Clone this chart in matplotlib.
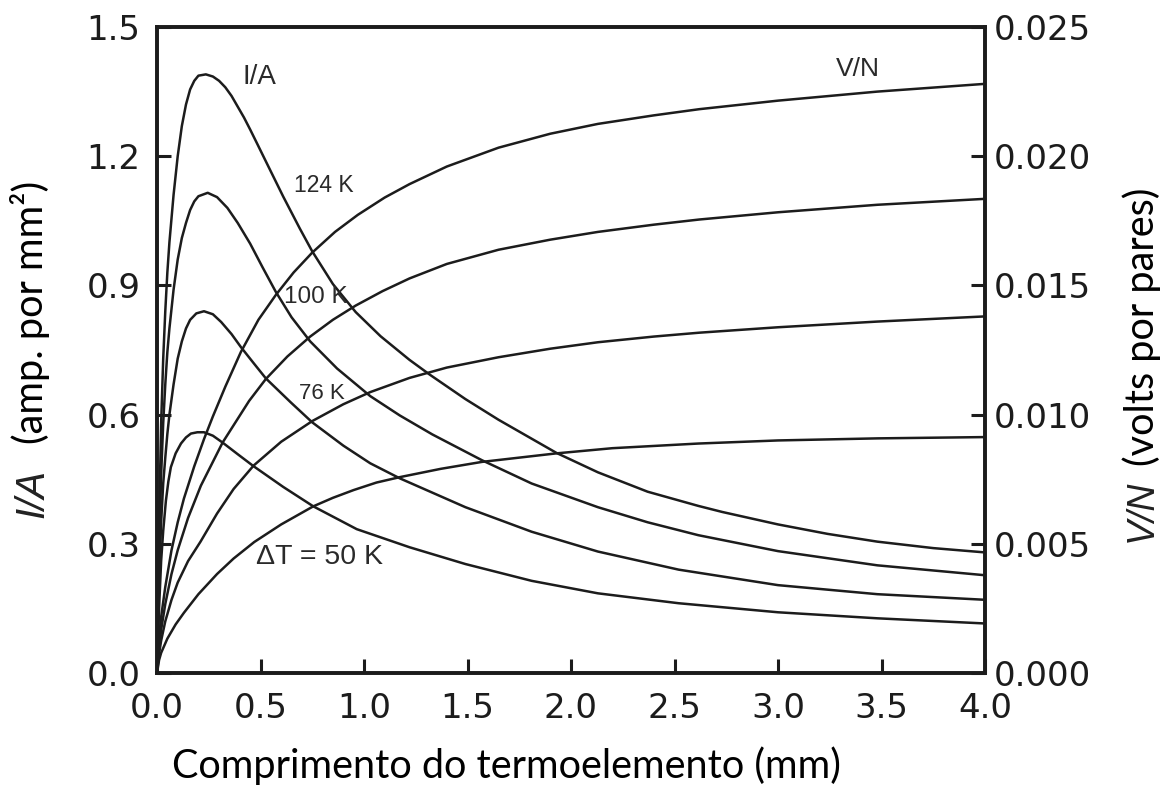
import matplotlib
matplotlib.use("Agg")
import matplotlib.pyplot as plt

# Current density I/A (amp. per mm^2) versus thermoelement length (mm)
x_ia_124 = [0, 0.01, 0.02, 0.03, 0.04, 0.05, 0.06, 0.08, 0.10, 0.12, 0.14, 0.16, 0.18, 0.20,
            0.236, 0.27, 0.30, 0.33, 0.36, 0.39, 0.42, 0.45, 0.485, 0.53, 0.61, 0.69, 0.75,
            0.85, 0.96, 1.08, 1.22, 1.32, 1.49, 1.65, 1.93, 2.13, 2.37, 2.615, 2.73, 3.0,
            3.24, 3.48, 3.75, 4.0]
ia_124 = [0, 0.35, 0.58, 0.73, 0.84, 0.93, 1.00, 1.11, 1.20, 1.27, 1.32, 1.355, 1.375, 1.387,
          1.39, 1.385, 1.375, 1.36, 1.34, 1.315, 1.29, 1.262, 1.228, 1.184, 1.106, 1.032, 0.979,
          0.903, 0.838, 0.782, 0.727, 0.692, 0.636, 0.588, 0.511, 0.466, 0.421, 0.388, 0.374,
          0.345, 0.323, 0.305, 0.29, 0.28]

x_ia_100 = [0, 0.01, 0.02, 0.03, 0.04, 0.05, 0.06, 0.08, 0.10, 0.12, 0.14, 0.16, 0.18, 0.20,
            0.245, 0.29, 0.34, 0.39, 0.45, 0.51, 0.574, 0.65, 0.74, 0.87, 1.03, 1.173, 1.33,
            1.57, 1.81, 2.13, 2.37, 2.615, 3.0, 3.48, 4.0]
ia_100 = [0, 0.28, 0.46, 0.58, 0.67, 0.745, 0.80, 0.89, 0.96, 1.01, 1.045, 1.075, 1.095, 1.107,
          1.115, 1.105, 1.08, 1.045, 0.997, 0.942, 0.885, 0.826, 0.77, 0.707, 0.643, 0.598,
          0.554, 0.494, 0.44, 0.385, 0.35, 0.32, 0.283, 0.25, 0.227]

x_ia_76 = [0, 0.01, 0.02, 0.03, 0.04, 0.05, 0.06, 0.08, 0.10, 0.12, 0.14, 0.16, 0.19, 0.227,
           0.27, 0.31, 0.36, 0.405, 0.466, 0.526, 0.647, 0.75, 0.90, 1.03, 1.173, 1.49, 1.81,
           2.13, 2.52, 3.0, 3.48, 4.0]
ia_76 = [0, 0.21, 0.35, 0.44, 0.50, 0.555, 0.60, 0.67, 0.73, 0.77, 0.80, 0.82, 0.835, 0.84,
         0.833, 0.815, 0.787, 0.757, 0.72, 0.684, 0.628, 0.582, 0.528, 0.487, 0.452, 0.385,
         0.328, 0.282, 0.24, 0.204, 0.183, 0.17]

x_ia_50 = [0, 0.01, 0.02, 0.03, 0.043, 0.055, 0.067, 0.09, 0.116, 0.14, 0.164, 0.195, 0.227,
           0.27, 0.317, 0.39, 0.467, 0.61, 0.755, 0.965, 1.22, 1.49, 1.81, 2.13, 2.52, 3.0,
           3.48, 4.0]
ia_50 = [0, 0.15, 0.26, 0.33, 0.40, 0.445, 0.478, 0.51, 0.533, 0.547, 0.556, 0.559, 0.559,
         0.551, 0.535, 0.508, 0.48, 0.432, 0.387, 0.334, 0.292, 0.253, 0.214, 0.185, 0.162,
         0.141, 0.127, 0.115]

# Voltage per couple V/N (volts per pair)
x_vn_124 = [0, 0.01, 0.02, 0.04, 0.07, 0.10, 0.13, 0.18, 0.227, 0.27, 0.33, 0.405, 0.49,
            0.574, 0.66, 0.75, 0.86, 0.97, 1.10, 1.22, 1.40, 1.65, 1.90, 2.13, 2.40, 2.62,
            3.0, 3.48, 4.0]
vn_124 = [0, 0.00133, 0.00217, 0.00333, 0.00475, 0.00583, 0.00675, 0.0080, 0.00905, 0.00993,
          0.01108, 0.01242, 0.01367, 0.01463, 0.0155, 0.01627, 0.01707, 0.01773, 0.0184,
          0.01892, 0.0196, 0.02033, 0.02087, 0.02125, 0.02158, 0.02182, 0.02215, 0.0225,
          0.0228]

x_vn_100 = [0, 0.01, 0.02, 0.04, 0.07, 0.10, 0.15, 0.212, 0.317, 0.445, 0.526, 0.63, 0.74,
            0.85, 0.96, 1.09, 1.22, 1.40, 1.65, 1.90, 2.13, 2.40, 2.62, 3.0, 3.48, 4.0]
vn_100 = [0, 0.0010, 0.00167, 0.00267, 0.00383, 0.00475, 0.0060, 0.00725, 0.00892, 0.01053,
          0.01138, 0.01225, 0.01302, 0.01367, 0.01422, 0.01478, 0.01527, 0.01583, 0.01638,
          0.01677, 0.01707, 0.01735, 0.01755, 0.01783, 0.01812, 0.01835]

x_vn_76 = [0, 0.01, 0.02, 0.04, 0.07, 0.10, 0.15, 0.21, 0.29, 0.37, 0.467, 0.60, 0.75, 0.90,
           1.03, 1.22, 1.40, 1.65, 1.90, 2.13, 2.40, 2.62, 3.0, 3.48, 4.0]
vn_76 = [0, 0.00075, 0.00125, 0.0020, 0.00283, 0.0035, 0.00433, 0.00508, 0.00617, 0.00712,
         0.00803, 0.00895, 0.00975, 0.0104, 0.01087, 0.01142, 0.01182, 0.01222, 0.01255,
         0.0128, 0.01302, 0.01317, 0.01338, 0.0136, 0.0138]

x_vn_50 = [0, 0.01, 0.02, 0.05, 0.09, 0.13, 0.20, 0.29, 0.37, 0.47, 0.60, 0.755, 0.85, 0.95,
           1.06, 1.173, 1.37, 1.57, 1.93, 2.20, 2.615, 3.0, 3.48, 4.0]
vn_50 = [0, 0.0005, 0.00078, 0.00133, 0.00188, 0.00233, 0.00305, 0.00383, 0.00443, 0.00507,
         0.00575, 0.00645, 0.00678, 0.00708, 0.00737, 0.00758, 0.0079, 0.00817, 0.0085,
         0.0087, 0.00888, 0.0090, 0.00908, 0.00913]

x_ticks = [0.0, 0.5, 1.0, 1.5, 2.0, 2.5, 3.0, 3.5, 4.0]
ia_ticks = [0.0, 0.3, 0.6, 0.9, 1.2, 1.5]
vn_ticks = [0.000, 0.005, 0.010, 0.015, 0.020, 0.025]

W, H = 1173, 787
fig = plt.figure(figsize=(W / 100, H / 100), dpi=100)
ax = fig.add_axes([157 / W, 1 - 673 / H, (985 - 157) / W, (673 - 27) / H])
ax2 = ax.twinx()

ink = "#1c1c1c"
line_kw = dict(color=ink, lw=1.8, solid_joinstyle="round", solid_capstyle="round")
for xs, ys in [(x_ia_124, ia_124), (x_ia_100, ia_100), (x_ia_76, ia_76), (x_ia_50, ia_50)]:
    ax.plot(xs, ys, **line_kw)
for xs, ys in [(x_vn_124, vn_124), (x_vn_100, vn_100), (x_vn_76, vn_76), (x_vn_50, vn_50)]:
    ax2.plot(xs, ys, **line_kw)

ax.set_xlim(0, 4.0)
ax.set_ylim(0, 1.5)
ax2.set_ylim(0, 0.025)

tick_font = dict(family="DejaVu Sans", size=24.5, color="#222222")
ax.set_xticks(x_ticks)
ax.set_xticklabels([f"{v:.1f}" for v in x_ticks], **tick_font)
ax.set_yticks(ia_ticks)
ax.set_yticklabels([f"{v:.1f}" for v in ia_ticks], **tick_font)
ax2.set_yticks(vn_ticks)
ax2.set_yticklabels([f"{v:.3f}" for v in vn_ticks], **tick_font)

ax.tick_params(axis="x", direction="in", length=10, width=2.2, pad=14, colors=ink)
ax.tick_params(axis="y", direction="in", length=10, width=2.2, pad=12, colors=ink)
ax2.tick_params(axis="y", direction="in", length=10, width=2.2, pad=6, colors=ink)
for a in (ax, ax2):
    for s in a.spines.values():
        s.set_linewidth(2.6)
        s.set_color(ink)

# Curve annotations
lab_font = dict(family="Liberation Sans", color="#2a2a2a", ha="left", va="center")
ax.text(0.415, 1.383, "I/A", fontsize=20, **lab_font)
ax.text(0.66, 1.132, "124 K", fontsize=16.5, **lab_font)
ax.text(0.613, 0.872, "100 K", fontsize=17.5, **lab_font)
ax.text(0.686, 0.650, "76 K", fontsize=16, **lab_font)
ax.text(0.478, 0.269, "\u0394T = 50 K", fontsize=20.5, **lab_font)
ax.text(3.28, 1.403, "V/N", fontsize=19, **lab_font)

# Axis titles
fig.text(506 / W, 1 - 766 / H, "Comprimento do termoelemento (mm)", fontsize=28.5,
         family="Lato", ha="center", va="center", color="black")
fig.text(32 / W, 1 - 493 / H, "I/A", fontsize=29, family="Liberation Sans",
         style="italic", rotation=90, ha="center", va="center", color="#222222")
fig.text(30 / W, 1 - 312 / H, "(amp. por mm²)", fontsize=28.5, family="Lato",
         rotation=90, ha="center", va="center", color="black")
fig.text(1142 / W, 1 - 511 / H, "V/N", fontsize=27, family="Liberation Sans",
         style="italic", rotation=90, ha="center", va="center", color="#222222")
fig.text(1142 / W, 1 - 327 / H, "(volts por pares)", fontsize=28.5, family="Lato",
         rotation=90, ha="center", va="center", color="black")

fig.savefig("out.png", dpi=100)
